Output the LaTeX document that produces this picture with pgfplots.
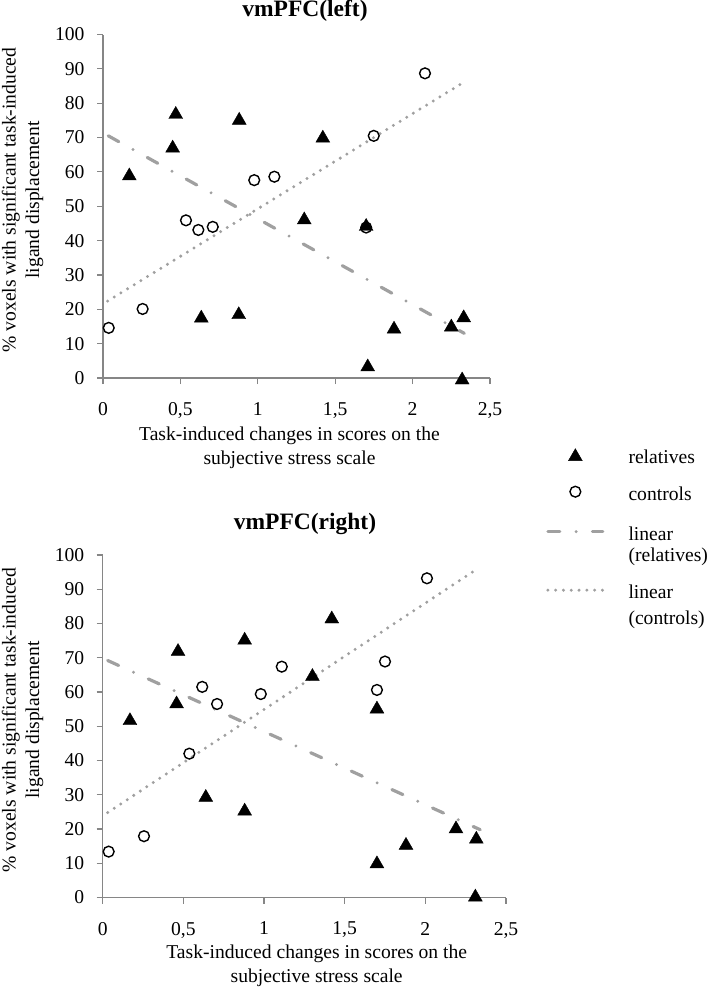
\documentclass[border=0pt]{standalone}
\usepackage{fontspec}
\setmainfont{Liberation Serif}
\usepackage{pgfplots}
\pgfplotsset{compat=1.18}
\definecolor{axgray}{RGB}{134,134,134}
\definecolor{trgray}{RGB}{160,160,160}
\newcommand\fs{\fontsize{19.6bp}{23.5bp}\selectfont}
\newcommand\ft{\fontsize{23.5bp}{28bp}\selectfont\bfseries}
\newcommand\rh[1]{\rule[-5bp]{0pt}{#1}}

\pgfplotsset{
 myax/.style={scale only axis, clip=false, anchor=south west,
   xmin=0,xmax=2.5,ymin=0,ymax=100,
   axis x line*=bottom, axis y line*=left,
   axis line style={draw=axgray, line width=1.1bp},
   xtick={0,0.5,1,1.5,2,2.5}, ytick={0,10,20,30,40,50,60,70,80,90,100},
   major tick style={draw=axgray, line width=1.1bp},
   tick align=outside, major tick length=6bp,
   /pgf/number format/use comma,
   /pgf/number format/assume math mode=true,
   tick label style={font=\fs, text=black},
   xticklabel style={yshift=-15bp},
   yticklabel style={xshift=-9bp},
 },
 rel/.style={only marks, mark=triangle*, mark size=8bp, color=black,
   mark options={fill=black, draw=black, line width=0.4bp, yshift=-2bp}},
 ctl/.style={only marks, mark=o, mark size=5.4bp, color=black,
   mark options={line width=1.4bp}},
 relline/.style={trgray, line width=3.2bp, line cap=round, mark=none,
   dash pattern=on 12bp off 16.3bp on 0bp off 16.3bp},
 ctlline/.style={trgray, line width=3.3bp, line cap=round, mark=none,
   dash pattern=on 0bp off 7.8bp},
 mkleg/.style={legend image code/.code={%
   \draw[##1, yshift=8.5bp] plot[only marks] coordinates {(27.5bp,0bp)};}},
 lnleg/.style={legend image code/.code={\draw[##1, yshift=8.5bp] (0bp,0bp) -- (55bp,0bp);}},
}

\begin{document}
\begin{tikzpicture}
\path[use as bounding box] (0,0) rectangle (714bp,-997bp);

% ---------- top panel ----------
\begin{axis}[myax, at={(103bp,-378bp)}, width=387bp, height=343.5bp,
  legend style={draw=none, fill=none, inner sep=0pt, font=\fs,
    at={(1.1447,-0.2052)}, anchor=north west,
    cells={anchor=base west}, nodes={inner sep=0pt},
    column sep=24bp, row sep=0bp}]
\addplot[rel, mkleg] coordinates {
 (0.17,59.4) (0.47,77.3) (0.45,67.5) (0.88,75.6) (1.42,70.4) (1.30,46.6)
 (1.70,44.7) (0.635,18.0) (0.877,19.0) (1.71,3.8) (1.88,14.8) (2.25,15.4)
 (2.33,18.1) (2.32,0.0)};
\addlegendentry{\rh{17bp}relatives}
\addplot[ctl, mkleg] coordinates {
 (0.037,14.6) (0.256,20.1) (0.536,45.9) (0.616,43.1) (0.709,44.0)
 (0.977,57.6) (1.107,58.6) (1.749,70.5) (2.08,88.7) (1.70,43.8)};
\addlegendentry{\rh{40.5bp}controls}
\addplot[relline, lnleg] coordinates {(0.034,70.5) (2.334,13.0)};
\addlegendentry{\rh{43.5bp}linear}
\addlegendimage{empty legend}
\addlegendentry{\rh{25bp}(relatives)}
\addplot[ctlline, lnleg] coordinates {(0.03,22.4) (2.33,86.1)};
\addlegendentry{\rh{40.5bp}linear}
\addlegendimage{empty legend}
\addlegendentry{\rh{29bp}(controls)}
\end{axis}

% ---------- bottom panel ----------
\begin{axis}[myax, at={(102.7bp,-897.5bp)}, width=403.3bp, height=342.5bp]
\addplot[rel] coordinates {
 (0.169,52.2) (0.467,72.4) (0.458,57.1) (0.880,75.7) (1.42,81.9) (1.30,65.1)
 (1.70,55.6) (0.639,29.8) (0.880,25.8) (1.70,10.4) (1.88,15.8) (2.19,20.6)
 (2.316,17.6) (2.31,0.7)};
\addplot[ctl] coordinates {
 (0.037,13.4) (0.256,17.9) (0.537,42.0) (0.617,61.5) (0.709,56.5)
 (0.98,59.4) (1.11,67.4) (1.70,60.6) (1.75,68.9) (2.01,93.2)};
\addplot[relline] coordinates {(0.031,69.2) (2.34,19.8)};
\addplot[ctlline] coordinates {(0.031,24.8) (2.32,95.9)};
\end{axis}

% ---------- titles and axis labels ----------
\node[font=\ft] at (305bp,-11bp) {vmPFC(left)};
\node[font=\ft] at (305bp,-524bp) {vmPFC(right)};
\node[font=\fs, align=center] at (289.5bp,-448bp)
  {Task-induced changes in scores on the\\subjective stress scale};
\node[font=\fs, align=center] at (316.7bp,-966bp)
  {Task-induced changes in scores on the\\subjective stress scale};
\node[font=\fs, align=center, rotate=90] at (22.5bp,-200bp)
  {\% voxels with significant task-induced\\ligand displacement};
\node[font=\fs, align=center, rotate=90] at (22.5bp,-720bp)
  {\% voxels with significant task-induced\\ligand displacement};
\end{tikzpicture}
\end{document}
